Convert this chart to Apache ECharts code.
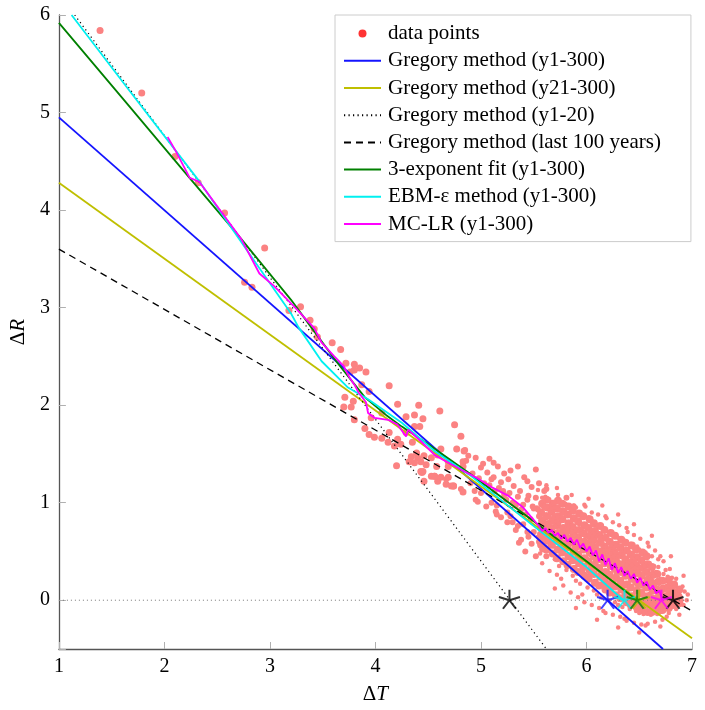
<!DOCTYPE html>
<html><head><meta charset="utf-8">
<script src="https://cdn.jsdelivr.net/npm/echarts@6/dist/echarts.min.js"></script>
<style>html,body{margin:0;padding:0;background:#fff}#c{width:705px;height:710px}</style>
</head><body><div id="c"></div>
<script>
// ---- data ----
const earlyPts = [[1.39,5.84],[1.785,5.20],[2.10,4.55],[2.32,4.28],[2.57,3.97],[2.95,3.61],[2.76,3.26],[2.83,3.21],[3.18,2.97],[3.29,3.01],[3.38,2.87],[3.42,2.78],[3.45,2.70],[3.59,2.64],[3.67,2.57],[3.80,2.42],[3.85,2.38],[3.91,2.34],[3.80,2.36],[4.13,2.20],[3.71,2.08],[3.79,2.04],[3.70,1.98],[3.77,1.98],[3.80,1.85],[3.90,1.76],[3.94,1.70],[3.99,1.67],[4.06,1.66],[4.12,1.62],[4.18,1.58],[4.20,1.38],[4.21,2.01],[4.29,1.88],[4.37,1.90],[4.41,2.00],[4.45,1.86],[4.37,1.78],[4.34,1.47],[4.40,1.46],[4.44,1.31],[4.46,1.22],[4.61,1.94],[4.56,1.27],[4.59,1.22],[4.75,1.80],[4.81,1.68],[4.77,1.55],[4.83,1.42],[4.74,1.17],[4.83,1.11],[4.29,1.72],[4.24,1.60],[4.35,1.62],[4.39,1.51],[4.53,1.46],[4.48,1.39],[4.69,1.37],[4.69,1.26],[3.94,2.14],[3.87,2.21],[3.72,2.43],[3.76,2.34],[3.96,1.87],[4.06,1.92],[4.13,1.72],[4.21,1.65],[4.42,1.78],[4.43,1.42],[4.53,1.27],[4.67,1.19],[4.72,1.17],[4.83,1.37],[4.84,1.53],[4.59,1.49],[4.62,1.55],[4.46,1.48],[4.32,1.42],[4.37,1.41],[4.43,1.32],[4.56,1.27],[4.62,1.26],[4.74,1.17],[4.45,1.32],[4.58,1.37],[4.69,1.42]];
const midPts = [[4.88,1.48],[4.95,1.46],[4.86,1.43],[5.00,1.36],[5.06,1.31],[5.16,1.37],[5.35,1.37],[5.52,1.34],[5.10,1.24],[5.19,1.21],[5.26,1.24],[5.31,1.17],[5.41,1.26],[5.48,1.16],[5.13,1.12],[5.22,1.08],[5.35,1.06],[5.44,1.03],[5.62,1.14],[4.97,1.01],[5.05,0.96],[5.14,0.91],[5.19,0.85],[5.28,0.86],[5.38,0.93],[5.49,0.96],[5.54,0.93],[5.64,1.03],[5.69,1.00],[5.81,1.05],[5.88,0.96],[5.35,0.76],[5.44,0.70],[5.36,0.59],[5.55,0.60],[4.81,1.14],[4.95,1.03],[4.92,1.30],[4.98,1.25],[5.03,1.20],[5.08,1.18],[5.12,1.26],[5.17,1.15],[5.21,1.12],[5.24,1.03],[5.27,1.10],[5.30,1.00],[5.33,0.97],[5.37,1.12],[5.40,0.98],[5.42,0.88],[5.45,1.07],[5.47,0.83],[5.50,0.94],[5.52,1.05],[5.55,0.86],[5.58,0.78],[5.60,0.95],[5.10,1.00],[5.15,0.97],[5.25,0.90],[5.30,0.80],[5.33,0.72],[5.40,0.78],[5.45,0.65],[5.50,0.70],[5.56,0.68],[5.58,0.52],[5.62,0.45],[5.02,1.40],[5.08,1.45],[5.22,1.30],[5.28,1.33],[5.44,1.22],[5.55,1.20],[5.60,1.12],[4.90,1.20],[4.94,1.12],[5.00,1.10],[5.15,0.88],[5.25,0.80],[5.38,0.62],[5.48,0.58],[5.52,0.45],[5.42,0.50],[5.12,1.41],[4.85,1.54],[4.67,1.24]];
const cloudPts = [
[5.56,0.48],[5.54,0.65],[5.57,0.78],[5.55,0.87],[5.53,0.95],[5.58,1.05],[5.56,0.57],[5.54,1.13],
[5.58,0.38],[5.61,0.55],[5.63,0.66],[5.59,0.74],[5.60,0.81],[5.62,0.88],[5.58,0.97],[5.61,1.06],[5.59,0.62],
[5.65,0.30],[5.67,0.47],[5.63,0.60],[5.66,0.69],[5.68,0.75],[5.64,0.80],[5.65,0.86],[5.67,0.94],[5.63,1.02],[5.66,0.71],
[5.72,0.26],[5.70,0.42],[5.69,0.55],[5.73,0.63],[5.68,0.70],[5.71,0.76],[5.72,0.81],[5.69,0.87],[5.70,0.95],[5.73,1.08],[5.68,0.66],
[5.76,0.22],[5.74,0.35],[5.77,0.49],[5.75,0.58],[5.73,0.64],[5.78,0.69],[5.76,0.74],[5.74,0.79],[5.77,0.85],[5.75,0.92],[5.73,1.01],[5.76,0.61],
[5.78,0.15],[5.81,0.31],[5.83,0.44],[5.79,0.53],[5.80,0.60],[5.82,0.66],[5.78,0.71],[5.81,0.76],[5.79,0.82],[5.83,0.89],[5.80,0.99],[5.82,0.57],
[5.85,0.08],[5.87,0.25],[5.83,0.38],[5.86,0.47],[5.88,0.54],[5.84,0.60],[5.85,0.65],[5.87,0.70],[5.83,0.75],[5.86,0.81],[5.84,0.88],[5.88,0.97],[5.85,0.58],
[5.92,0.03],[5.90,0.20],[5.89,0.34],[5.93,0.43],[5.88,0.50],[5.91,0.57],[5.92,0.62],[5.89,0.67],[5.90,0.72],[5.93,0.78],[5.88,0.85],[5.90,0.95],[5.91,0.53],
[5.96,0.06],[5.94,0.17],[5.97,0.30],[5.95,0.39],[5.93,0.47],[5.98,0.53],[5.96,0.58],[5.94,0.62],[5.97,0.67],[5.95,0.73],[5.93,0.80],[5.96,0.88],[5.98,0.98],[5.94,0.44],
[5.98,-0.02],[6.01,0.13],[6.03,0.26],[5.99,0.36],[6.00,0.44],[6.02,0.50],[5.98,0.55],[6.01,0.60],[5.99,0.65],[6.03,0.70],[6.00,0.77],[6.02,0.85],[5.99,0.96],[6.01,0.40],
[6.05,-0.05],[6.07,0.10],[6.03,0.22],[6.06,0.32],[6.08,0.40],[6.04,0.46],[6.05,0.51],[6.07,0.56],[6.03,0.61],[6.06,0.66],[6.04,0.72],[6.08,0.80],[6.05,0.90],[6.03,0.36],[6.06,0.58],
[6.12,-0.08],[6.10,0.06],[6.09,0.18],[6.13,0.28],[6.08,0.36],[6.11,0.42],[6.12,0.47],[6.09,0.52],[6.10,0.57],[6.13,0.62],[6.08,0.68],[6.10,0.76],[6.11,0.88],[6.12,0.32],[6.09,0.44],
[6.16,-0.11],[6.14,0.03],[6.17,0.15],[6.15,0.25],[6.13,0.33],[6.18,0.39],[6.16,0.44],[6.14,0.49],[6.17,0.54],[6.15,0.59],[6.13,0.65],[6.16,0.73],[6.18,0.86],[6.14,0.29],[6.17,0.51],[6.15,0.41],
[6.18,-0.13],[6.21,0.00],[6.23,0.12],[6.19,0.22],[6.20,0.30],[6.22,0.36],[6.18,0.41],[6.21,0.46],[6.19,0.51],[6.23,0.56],[6.20,0.62],[6.22,0.70],[6.19,0.84],[6.21,0.26],[6.18,0.48],[6.23,0.38],
[6.25,-0.15],[6.27,-0.02],[6.23,0.09],[6.26,0.19],[6.28,0.27],[6.24,0.33],[6.25,0.38],[6.27,0.43],[6.23,0.48],[6.26,0.53],[6.24,0.59],[6.28,0.67],[6.25,0.80],[6.23,0.23],[6.26,0.45],[6.27,0.35],
[6.32,-0.17],[6.30,-0.05],[6.29,0.06],[6.33,0.16],[6.28,0.24],[6.31,0.30],[6.32,0.35],[6.29,0.40],[6.30,0.45],[6.33,0.50],[6.28,0.56],[6.30,0.64],[6.31,0.77],[6.32,0.20],[6.29,0.42],[6.28,0.32],
[6.36,-0.19],[6.34,-0.07],[6.37,0.03],[6.35,0.13],[6.33,0.21],[6.38,0.27],[6.36,0.32],[6.34,0.37],[6.37,0.42],[6.35,0.47],[6.33,0.53],[6.36,0.61],[6.38,0.74],[6.34,0.17],[6.37,0.39],[6.35,0.29],
[6.38,-0.21],[6.41,-0.09],[6.43,0.01],[6.39,0.10],[6.40,0.18],[6.42,0.24],[6.38,0.29],[6.41,0.34],[6.39,0.39],[6.43,0.44],[6.40,0.50],[6.42,0.58],[6.39,0.70],[6.41,0.14],[6.38,0.36],[6.43,0.26],
[6.45,-0.23],[6.47,-0.11],[6.43,-0.01],[6.46,0.08],[6.48,0.15],[6.44,0.21],[6.45,0.26],[6.47,0.31],[6.43,0.36],[6.46,0.41],[6.44,0.47],[6.48,0.55],[6.45,0.67],[6.43,0.12],[6.46,0.33],
[6.52,-0.25],[6.50,-0.13],[6.49,-0.03],[6.53,0.05],[6.48,0.12],[6.51,0.18],[6.52,0.23],[6.49,0.28],[6.50,0.33],[6.53,0.38],[6.48,0.44],[6.50,0.52],[6.51,0.63],[6.52,0.09],[6.49,0.30],
[6.56,-0.26],[6.54,-0.14],[6.57,-0.05],[6.55,0.03],[6.53,0.10],[6.58,0.15],[6.56,0.20],[6.54,0.25],[6.57,0.30],[6.55,0.35],[6.53,0.41],[6.56,0.49],[6.58,0.59],[6.54,0.07],
[6.58,-0.24],[6.61,-0.15],[6.63,-0.06],[6.59,0.01],[6.60,0.07],[6.62,0.12],[6.58,0.17],[6.61,0.22],[6.59,0.27],[6.63,0.32],[6.60,0.38],[6.62,0.45],[6.59,0.55],[6.61,0.04],
[6.65,-0.22],[6.67,-0.14],[6.63,-0.07],[6.66,-0.01],[6.68,0.05],[6.64,0.10],[6.65,0.14],[6.67,0.19],[6.63,0.24],[6.66,0.29],[6.64,0.35],[6.68,0.42],[6.65,0.51],
[6.72,-0.20],[6.70,-0.12],[6.69,-0.06],[6.73,0.00],[6.68,0.05],[6.71,0.09],[6.72,0.13],[6.69,0.17],[6.70,0.22],[6.73,0.27],[6.68,0.34],[6.70,0.45],
[6.76,-0.17],[6.74,-0.10],[6.77,-0.04],[6.75,0.01],[6.73,0.06],[6.78,0.10],[6.76,0.14],[6.74,0.19],[6.77,0.24],[6.75,0.31],[6.73,0.40],
[6.78,-0.13],[6.81,-0.06],[6.83,-0.01],[6.79,0.04],[6.80,0.08],[6.82,0.12],[6.78,0.17],[6.81,0.23],[6.79,0.32],
[6.85,-0.09],[6.87,-0.03],[6.83,0.02],[6.86,0.06],[6.88,0.10],[6.84,0.15],[6.85,0.22],
[6.92,-0.05],[6.90,0.00],[6.89,0.04],[6.93,0.09],[6.91,0.14],[6.95,0.00],[6.96,0.06],
[5.62,1.18],[5.72,1.15],[5.86,1.08],[6.02,1.04],[6.15,0.97],[6.30,0.88],[6.45,0.78],[6.62,0.66],[6.80,0.45],[5.70,0.12],[5.90,-0.08],[6.10,-0.20],[6.30,-0.28],[6.50,-0.33],[6.70,-0.27],[6.92,0.25],[6.88,-0.15]
];
const cloudCore = [
[5.57,0.57],[5.58,0.66],[5.57,0.74],[5.58,0.82],[5.57,0.90],[5.58,0.99],
[5.62,0.52],[5.63,0.61],[5.62,0.70],[5.63,0.78],[5.62,0.86],[5.63,0.95],[5.62,1.03],
[5.68,0.48],[5.67,0.57],[5.68,0.66],[5.67,0.74],[5.68,0.82],[5.67,0.91],[5.68,0.99],
[5.72,0.43],[5.73,0.52],[5.72,0.61],[5.73,0.69],[5.72,0.77],[5.73,0.86],[5.72,0.94],[5.73,1.02],
[5.78,0.40],[5.77,0.49],[5.78,0.58],[5.77,0.66],[5.78,0.74],[5.77,0.83],[5.78,0.91],[5.77,0.99],
[5.82,0.36],[5.83,0.45],[5.82,0.54],[5.83,0.63],[5.82,0.71],[5.83,0.79],[5.82,0.88],[5.83,0.96],
[5.88,0.32],[5.87,0.41],[5.88,0.50],[5.87,0.59],[5.88,0.67],[5.87,0.75],[5.88,0.84],[5.87,0.92],
[5.92,0.29],[5.93,0.38],[5.92,0.47],[5.93,0.56],[5.92,0.64],[5.93,0.72],[5.92,0.81],[5.93,0.89],
[5.98,0.25],[5.97,0.34],[5.98,0.43],[5.97,0.52],[5.98,0.60],[5.97,0.69],[5.98,0.77],[5.97,0.86],
[6.02,0.22],[6.03,0.31],[6.02,0.40],[6.03,0.49],[6.02,0.57],[6.03,0.66],[6.02,0.74],[6.03,0.83],
[6.08,0.18],[6.07,0.27],[6.08,0.36],[6.07,0.45],[6.08,0.54],[6.07,0.62],[6.08,0.71],[6.07,0.79],
[6.12,0.15],[6.13,0.24],[6.12,0.33],[6.13,0.42],[6.12,0.50],[6.13,0.59],[6.12,0.67],[6.13,0.76],
[6.18,0.11],[6.17,0.20],[6.18,0.29],[6.17,0.38],[6.18,0.47],[6.17,0.55],[6.18,0.64],[6.17,0.72],
[6.22,0.08],[6.23,0.17],[6.22,0.26],[6.23,0.35],[6.22,0.43],[6.23,0.52],[6.22,0.60],[6.23,0.69],
[6.28,0.05],[6.27,0.14],[6.28,0.23],[6.27,0.32],[6.28,0.40],[6.27,0.49],[6.28,0.57],[6.27,0.66],
[6.32,0.02],[6.33,0.11],[6.32,0.20],[6.33,0.29],[6.32,0.37],[6.33,0.46],[6.32,0.54],[6.33,0.62],
[6.38,-0.02],[6.37,0.07],[6.38,0.16],[6.37,0.25],[6.38,0.34],[6.37,0.42],[6.38,0.51],[6.37,0.59],
[6.42,-0.05],[6.43,0.04],[6.42,0.13],[6.43,0.22],[6.42,0.31],[6.43,0.39],[6.42,0.47],[6.43,0.56],
[6.48,-0.08],[6.47,0.01],[6.48,0.10],[6.47,0.19],[6.48,0.28],[6.47,0.36],[6.48,0.44],[6.47,0.52],
[6.52,-0.10],[6.53,-0.02],[6.52,0.07],[6.53,0.16],[6.52,0.25],[6.53,0.33],[6.52,0.41],[6.53,0.49],
[6.58,-0.12],[6.57,-0.04],[6.58,0.04],[6.57,0.13],[6.58,0.21],[6.57,0.29],[6.58,0.37],[6.57,0.45],
[6.62,-0.12],[6.63,-0.05],[6.62,0.02],[6.63,0.10],[6.62,0.18],[6.63,0.26],[6.62,0.34],
[6.68,-0.11],[6.67,-0.04],[6.68,0.03],[6.67,0.11],[6.68,0.19],[6.67,0.27],
[6.72,-0.10],[6.73,-0.03],[6.72,0.04],[6.73,0.12],[6.72,0.20],
[6.78,-0.08],[6.77,-0.01],[6.78,0.06],[6.77,0.13],[6.78,0.21],
[6.82,-0.05],[6.83,0.02],[6.82,0.09],[6.83,0.16],
[6.88,-0.03],[6.87,0.04],[6.88,0.11]
];
const gregAll = [[1,4.95],[6.725,-0.5]];
const greg21 = [[1,4.28],[7,-0.39]];
const greg20 = [[1.15,6.0],[5.62,-0.5]];
const greg100 = [[1,3.60],[7,-0.11]];
const threeExp = [[1,5.92],[1.6,5.15],[2.23,4.34],[2.7,3.74],[3.2,3.08],[3.39,2.80],[3.65,2.42],[3.9,2.08],[4.1,1.90],[4.25,1.78],[4.5,1.60],[4.88,1.31],[5.5,0.81],[6.0,0.40],[6.48,0.0]];
const ebm = [[1.12,6.0],[1.7,5.18],[2.32,4.31],[2.8,3.56],[3.2,2.94],[3.27,2.80],[3.49,2.45],[3.74,2.18],[3.93,2.06],[4.25,1.82],[4.56,1.53],[4.91,1.27],[5.5,0.76],[6.0,0.34],[6.35,0.0]];
const mclr = [[2.03,4.75],[2.10,4.62],[2.24,4.33],[2.33,4.29],[2.54,3.98],[2.73,3.70],[2.90,3.35],[3.04,3.22],[3.23,3.01],[3.42,2.79],[3.49,2.64],[3.61,2.50],[3.70,2.40],[3.75,2.29],[3.80,2.21],[3.84,2.13],[3.91,2.03],[3.93,1.92],[3.99,1.87],[4.12,1.85],[4.21,1.80],[4.29,1.68],[4.31,1.75],[4.43,1.63],[4.56,1.49],[4.69,1.41],[4.81,1.34],[4.95,1.26],[5.10,1.16],[5.26,1.07],[5.40,0.95],[5.55,0.76],[5.58,0.71],[5.61,0.74],[5.64,0.69],[5.67,0.72],[5.70,0.66],[5.73,0.69],[5.76,0.63],[5.79,0.67],[5.82,0.60],[5.85,0.64],[5.88,0.57],[5.91,0.62],[5.94,0.54],[5.97,0.58],[6.00,0.50],[6.03,0.55],[6.06,0.46],[6.09,0.51],[6.12,0.40],[6.15,0.47],[6.18,0.36],[6.21,0.43],[6.24,0.31],[6.27,0.38],[6.30,0.28],[6.33,0.34],[6.36,0.25],[6.39,0.30],[6.42,0.22],[6.45,0.27],[6.48,0.18],[6.51,0.23],[6.54,0.15],[6.57,0.19],[6.60,0.11],[6.63,0.15],[6.66,0.07],[6.69,0.10],[6.72,0.0]];
const zeroLine = [[1,0],[7,0]];
const starsBlack = [[5.27,0],[6.82,0]];
const starBlue = [[6.2,0]];
const starCyan = [[6.36,0]];
const starYellow = [[6.50,0]];
const starGreen = [[6.48,0]];
const starMagenta = [[6.71,0]];
const names = ['data points','Gregory method (y1-300)','Gregory method (y21-300)','Gregory method (y1-20)','Gregory method (last 100 years)','3-exponent fit (y1-300)','EBM-\u03b5 method (y1-300)','MC-LR (y1-300)'];

// ---- chart ----
const FONT = "'Liberation Serif','DejaVu Serif',serif";
const PT = '#fb8282';
const STAR = 'path://M0 -10L0 0M9.51 -3.09L0 0M5.88 8.09L0 0M-5.88 8.09L0 0M-9.51 -3.09L0 0';
function star(data, color){
  return {type:'scatter', name:'star'+color, data, symbol:STAR, symbolSize:[21,20], symbolKeepAspect:true, symbolOffset:[0,-1],
    itemStyle:{color:'rgba(0,0,0,0)', borderColor:color, borderWidth:2}, z:5, silent:true};
}
function line(name, data, color, width, type){
  return {type:'line', name, data, symbol:'none', showSymbol:false, animation:false,
    lineStyle:{color, width, type:type||'solid'}, itemStyle:{color}, z:3, silent:true};
}
const chart = echarts.init(document.getElementById('c'), null, {renderer:'canvas'});
chart.setOption({
  animation:false,
  backgroundColor:'#fff',
  grid:{left:57, right:13, top:15, bottom:61, containLabel:false},
  xAxis:{type:'value', min:1, max:7, interval:1,
    name:'{d|\u0394}{t|T}', nameLocation:'middle', nameGap:35,
    nameTextStyle:{color:'#000', fontFamily:FONT, fontSize:21, rich:{d:{fontFamily:FONT,fontSize:21,color:'#000'}, t:{fontFamily:FONT,fontSize:21,fontStyle:'italic',color:'#000'}}},
    axisLine:{onZero:false, lineStyle:{color:'#555', width:1.3}},
    axisTick:{inside:true, length:7, lineStyle:{color:'#b0b0b0', width:1}},
    axisLabel:{color:'#000', fontFamily:FONT, fontSize:20, margin:8},
    splitLine:{show:false}},
  yAxis:{type:'value', min:-0.5, max:6, minInterval:1, maxInterval:1,
    name:'{d|\u0394}{t|R}', nameLocation:'middle', nameGap:28, nameRotate:90,
    nameTextStyle:{color:'#000', fontFamily:FONT, fontSize:21, rich:{d:{fontFamily:FONT,fontSize:21,color:'#000'}, t:{fontFamily:FONT,fontSize:21,fontStyle:'italic',color:'#000'}}},
    axisLine:{onZero:false, lineStyle:{color:'#555', width:1.3}},
    axisTick:{inside:true, length:7, lineStyle:{color:'#b0b0b0', width:1}},
    axisLabel:{color:'#000', fontFamily:FONT, fontSize:20, margin:9, formatter:v => (v < 0 ? '' : String(v))},
    splitLine:{show:false}},
  legend:{orient:'vertical', left:335, top:15, padding:[5,30,4,8], itemWidth:37, itemHeight:8, itemGap:0,
    borderColor:'#cccccc', borderWidth:1, backgroundColor:'#fff', selectedMode:false,
    itemStyle:{color:'rgba(0,0,0,0)', borderWidth:0},
    textStyle:{fontFamily:FONT, fontSize:21, color:'#000', lineHeight:27.2, padding:[0,0,0,2]},
    data:[{name:names[0], icon:'circle', itemStyle:{color:'#ff3333', borderWidth:0}}].concat(names.slice(1))},
  series:[
    {type:'scatter', name:names[0], data:cloudCore, symbolSize:8, itemStyle:{color:PT, opacity:1}, z:1, silent:true},
    {type:'scatter', name:names[0], data:cloudPts, symbolSize:4.5, itemStyle:{color:PT, opacity:1}, z:1, silent:true},
    {type:'scatter', name:names[0], data:midPts, symbolSize:6, itemStyle:{color:PT, opacity:1}, z:1, silent:true},
    {type:'scatter', name:names[0], data:earlyPts, symbolSize:7, itemStyle:{color:PT, opacity:1}, z:1, silent:true},
    line('zero', zeroLine, '#777', 1, [1,3]),
    line(names[1], gregAll, '#1414ff', 1.8),
    line(names[2], greg21, '#bfbf00', 1.8),
    line(names[3], greg20, '#000', 1.2, [1.2,3.3]),
    line(names[4], greg100, '#000', 1.3, [7,5]),
    line(names[5], threeExp, '#008000', 1.8),
    line(names[6], ebm, '#00f0f0', 1.8),
    line(names[7], mclr, '#ff00ff', 1.8),
    star(starsBlack, '#000'),
    star(starYellow, '#bfbf00'),
    star(starBlue, '#1414ff'),
    star(starCyan, '#00f0f0'),
    star(starGreen, '#008000'),
    star(starMagenta, '#ff00ff')
  ]
});
</script></body></html>
